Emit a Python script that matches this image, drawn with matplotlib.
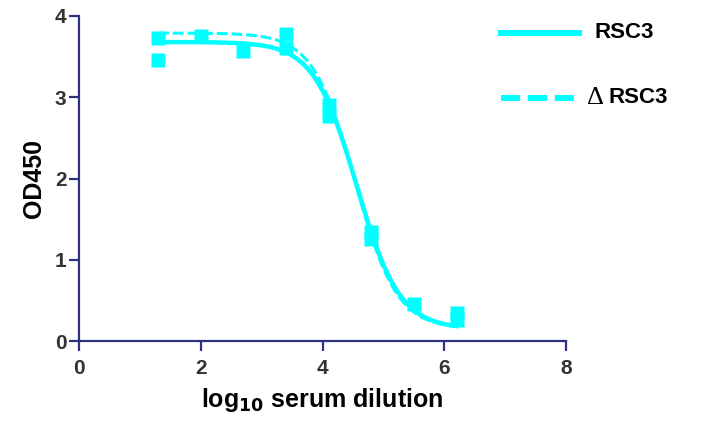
import numpy as np
import matplotlib
matplotlib.use("Agg")
from matplotlib import pyplot as plt

plt.rcParams['font.family'] = ['Liberation Sans', 'DejaVu Sans']

# measured points (log10 serum dilution, OD450)
x_pts = [1.3, 1.3, 2.0, 2.7, 3.4, 3.4, 4.1, 4.1, 4.8, 4.8, 5.5, 6.2, 6.2]
y_pts = [3.73, 3.46, 3.75, 3.57, 3.78, 3.61, 2.90, 2.77, 1.34, 1.25, 0.45, 0.34, 0.26]

# four-parameter logistic fits: bottom, top, logIC50, hill slope
fit_rsc3 = [0.15, 3.68, 4.56, 1.23]
fit_delta = [0.15, 3.79, 4.53, 1.26]

labels = ['RSC3', 'RSC3']
color = '#00ffff'
axis_color = '#2e3182'


def logistic(x, p):
    bottom, top, x50, h = p
    return bottom + (top - bottom) / (1 + 10 ** ((x - x50) * h))


fig = plt.figure(figsize=(7.04, 4.21), dpi=100)
ax = fig.add_axes([0.1122, 0.19, 0.692, 0.772])

xx = np.linspace(1.3, 6.2, 200)
ax.plot(xx, logistic(xx, fit_delta), color=color, lw=2.2, ls=(0, (3.5, 1.3)))
ax.plot(xx, logistic(xx, fit_rsc3), color=color, lw=3.2)
ax.plot(x_pts, y_pts, 's', color=color, ms=10.5, mec='none')

ax.set_xlim(0, 8)
ax.set_ylim(0, 4)
ax.set_xticks([0, 2, 4, 6, 8])
ax.set_yticks([0, 1, 2, 3, 4])
for s in ['top', 'right']:
    ax.spines[s].set_visible(False)
for s in ['left', 'bottom']:
    ax.spines[s].set_color(axis_color)
    ax.spines[s].set_linewidth(1.6)
ax.tick_params(direction='out', length=7, width=1.6, color=axis_color,
               labelsize=15, labelcolor='#333333')
ax.tick_params(axis='x', pad=6)
ax.tick_params(axis='y', pad=2)
for t in ax.get_xticklabels() + ax.get_yticklabels():
    t.set_fontweight('bold')
ax.set_xlabel('log$_{\\mathbf{10}}$ serum dilution', fontsize=18, fontweight='bold', labelpad=6)
ax.set_ylabel('OD450', fontsize=18, fontweight='bold', labelpad=6)

# legend drawn outside the axes
leg_y = [0.922, 0.768]
styles = ['-', (0, (3.2, 1.3))]
for yy, st in zip(leg_y, styles):
    fig.add_artist(plt.Line2D([0.711, 0.823], [yy, yy], color=color, lw=4.3, ls=st,
                              transform=fig.transFigure))
fig.text(0.845, leg_y[0], labels[0], fontsize=16, fontweight='bold', va='center', ha='left')
fig.text(0.834, leg_y[1], '\u0394', fontsize=19, family=['Liberation Serif'],
         va='center', ha='left')
fig.text(0.864, leg_y[1], labels[1], fontsize=16, fontweight='bold', va='center', ha='left')

fig.savefig('out.png', dpi=100)
